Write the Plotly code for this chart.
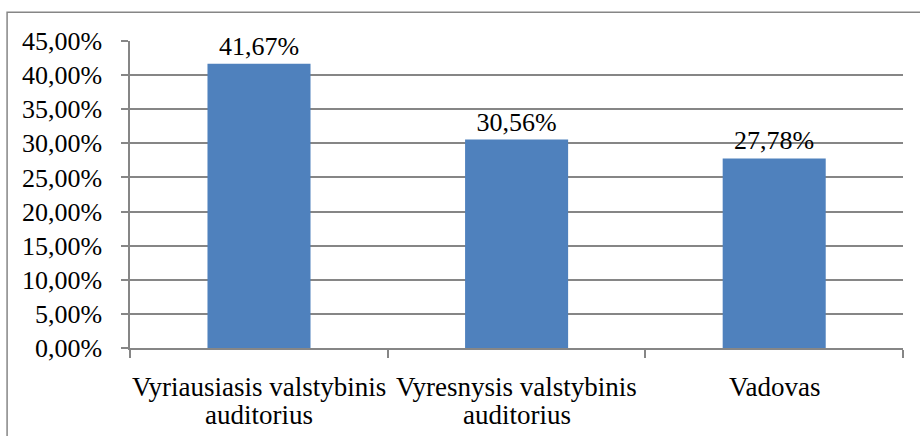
import plotly.graph_objects as go

categories = ["Vyriausiasis valstybinis<br>auditorius", "Vyresnysis valstybinis<br>auditorius", "Vadovas"]
shares = [0.4167, 0.3056, 0.2778]
y_ticks = [0, 0.05, 0.10, 0.15, 0.20, 0.25, 0.30, 0.35, 0.40, 0.45]

FONT = "Liberation Serif"
GRID = "#868686"

fig = go.Figure(go.Bar(
    x=categories,
    y=shares,
    marker=dict(color="#4F81BD", line=dict(width=0)),
    texttemplate="%{y:.2%}",
    textposition="outside",
    textfont=dict(family=FONT, size=26, color="#000000"),
    cliponaxis=False,
    width=0.4,
))

# Category labels: one annotation per text line, for tighter line spacing
annotations = []
for cat in categories:
    for i, line in enumerate(cat.split("<br>")):
        annotations.append(dict(
            x=cat, y=0, xref="x", yref="y", text=line, showarrow=False,
            xanchor="center", yanchor="top", yshift=-22 - 28 * i,
            font=dict(family=FONT, size=27, color="#000000"),
        ))

fig.update_layout(
    width=920, height=436,
    margin=dict(l=130, r=17, t=41, b=88),
    paper_bgcolor="white", plot_bgcolor="white",
    separators=",.",
    showlegend=False,
    font=dict(family=FONT, size=26, color="#000000"),
    annotations=annotations,
    shapes=[dict(type="rect", xref="paper", yref="paper",
                 x0=-0.159, x1=1.2, y0=-0.6, y1=1.094,
                 line=dict(color=GRID, width=1.5), layer="below")],
)

fig.update_yaxes(
    range=[0, 0.45], tickvals=y_ticks, tickformat=".2%",
    showgrid=True, gridcolor=GRID, gridwidth=1.5,
    showline=True, linecolor=GRID, linewidth=1.5,
    ticks="outside", ticklen=7, tickcolor=GRID, tickwidth=1.5,
    zeroline=False, ticklabelstandoff=14,
    tickfont=dict(family=FONT, size=26, color="#000000"),
)
fig.update_xaxes(
    showline=True, linecolor=GRID, linewidth=1.5,
    ticks="outside", tickson="boundaries", ticklen=8, tickcolor=GRID, tickwidth=1.5,
    showgrid=False, showticklabels=False,
)

fig.write_html("out.html")
